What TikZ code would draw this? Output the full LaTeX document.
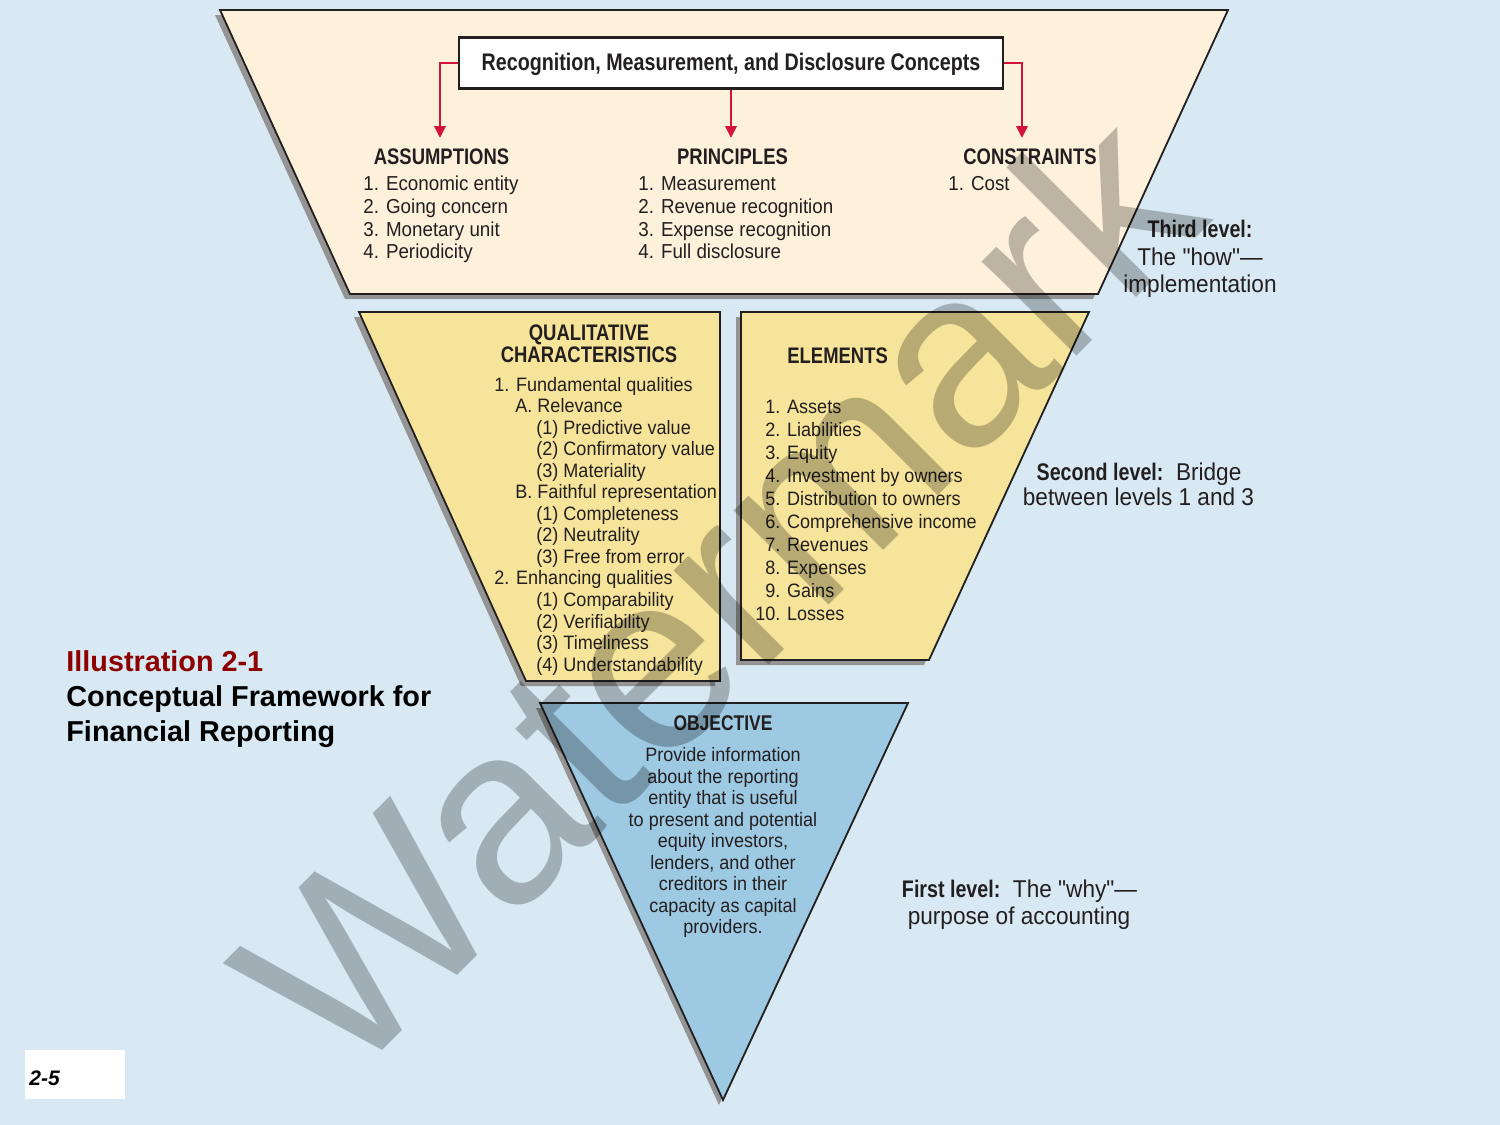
\documentclass[tikz,border=0pt]{standalone}
\usepackage{fontspec}
\setmainfont{Liberation Sans}
\newfontfamily\bodyf[FakeStretch=0.93]{Liberation Sans}
\newfontfamily\headf[FakeStretch=0.82]{Liberation Sans}
\usetikzlibrary{arrows.meta}
\definecolor{bgblue}{RGB}{216,233,243}
\definecolor{cream}{RGB}{253,241,219}
\definecolor{yel}{RGB}{246,228,154}
\definecolor{tri}{RGB}{157,201,226}
\definecolor{ink}{RGB}{35,31,32}
\definecolor{arrowred}{RGB}{210,20,58}
\definecolor{capred}{RGB}{140,0,0}
\begin{document}
\begin{tikzpicture}[x=0.5pt,y=-0.5pt,
  txt/.style={inner sep=0pt,text=ink,font=\bodyf\fontsize{9.7}{11}\selectfont},
  toptxt/.style={inner sep=0pt,text=ink,font=\bodyf\fontsize{10.1}{12}\selectfont},
  headtxt/.style={inner sep=0pt,text=ink,font=\headf\bfseries\fontsize{11.25}{13}\selectfont},
  lvl/.style={inner sep=0pt,text=ink,font=\bodyf\fontsize{12.15}{14}\selectfont},
  captxt/.style={inner sep=0pt,font=\bfseries\fontsize{14.4}{17}\selectfont},
  shade/.style={fill=black!42,draw=none},
  panel/.style={draw=ink,line width=0.9pt,line join=miter},
  redarr/.style={draw=arrowred,line width=1.45pt,-{Triangle[length=6pt,width=5.6pt]}}
]
% background
\fill[bgblue] (0,0) rectangle (1500,1125);
\path[use as bounding box] (0,0) rectangle (1500,1125);

% ---------- shapes ----------
\fill[shade,shift={(-5,5)}] (220,10) -- (1228,10) -- (1098,294) -- (350,294) -- cycle;
\filldraw[panel,fill=cream] (220,10) -- (1228,10) -- (1098,294) -- (350,294) -- cycle;

\fill[shade,shift={(-5,5)}] (359,312) -- (720,312) -- (720,681) -- (526,681) -- cycle;
\filldraw[panel,fill=yel] (359,312) -- (720,312) -- (720,681) -- (526,681) -- cycle;

\fill[shade,shift={(-5,5)}] (741,312) -- (1089,312) -- (929,660) -- (741,660) -- cycle;
\filldraw[panel,fill=yel] (741,312) -- (1089,312) -- (929,660) -- (741,660) -- cycle;

\fill[shade,shift={(-4,5)}] (540,703) -- (908,703) -- (723,1100) -- cycle;
\filldraw[panel,fill=tri] (540,703) -- (908,703) -- (723,1100) -- cycle;

% ---------- top level ----------
\node[draw=ink,line width=1.2pt,fill=white,minimum width=272pt,minimum height=25.5pt,
      inner sep=0pt,text=ink,font=\headf\bfseries\fontsize{12}{14}\selectfont,
      text height=0.716em,text depth=0pt] (hdr) at (731,63)
      {Recognition, Measurement, and Disclosure Concepts};

\node[headtxt,anchor=base] (hA) at (441.5,164) {ASSUMPTIONS};
\node[headtxt,anchor=base] (hP) at (732.5,164) {PRINCIPLES};
\node[headtxt,anchor=base] (hC) at (1030,164) {CONSTRAINTS};

\coordinate (aA) at (440,138);
\coordinate (aP) at (731,138);
\coordinate (aC) at (1022,138);
\draw[redarr] (hdr.west) -| (aA);
\draw[redarr] (hdr.south) -- (aP);
\draw[redarr] (hdr.east) -| (aC);

\node[toptxt,anchor=base west] (a1) at (363,190.5) {1. Economic entity};
\node[toptxt,anchor=base west] (a2) at (363,213.3) {2. Going concern};
\node[toptxt,anchor=base west] (a3) at (363,236.1) {3. Monetary unit};
\node[toptxt,anchor=base west] (a4) at (363,258.9) {4. Periodicity};

\node[toptxt,anchor=base west] (p1) at (638,190.5) {1. Measurement};
\node[toptxt,anchor=base west] (p2) at (638,213.3) {2. Revenue recognition};
\node[toptxt,anchor=base west] (p3) at (638,236.1) {3. Expense recognition};
\node[toptxt,anchor=base west] (p4) at (638,258.9) {4. Full disclosure};

\node[toptxt,anchor=base west] (c1) at (948,190.5) {1. Cost};

\node[lvl,anchor=base,font=\headf\bfseries\fontsize{12}{14}\selectfont] (t1) at (1200,237) {Third level:};
\node[lvl,anchor=base] (t2) at (1200,265) {The "how"—};
\node[lvl,anchor=base] (t3) at (1200,292) {implementation};

% ---------- second level ----------
\node[headtxt,anchor=base] (qh1) at (589,340) {QUALITATIVE};
\node[headtxt,anchor=base] (qh2) at (589,362.7) {CHARACTERISTICS};

\node[txt,anchor=base west] (q1)  at (494,391.0) {1. Fundamental qualities};
\node[txt,anchor=base west] (q2)  at (515,412.5) {A. Relevance};
\node[txt,anchor=base west] (q3)  at (536,434.1) {(1) Predictive value};
\node[txt,anchor=base west] (q4)  at (536,455.6) {(2) Confirmatory value};
\node[txt,anchor=base west] (q5)  at (536,477.2) {(3) Materiality};
\node[txt,anchor=base west] (q6)  at (515,498.7) {B. Faithful representation};
\node[txt,anchor=base west] (q7)  at (536,520.2) {(1) Completeness};
\node[txt,anchor=base west] (q8)  at (536,541.8) {(2) Neutrality};
\node[txt,anchor=base west] (q9)  at (536,563.3) {(3) Free from error};
\node[txt,anchor=base west] (q10) at (494,584.9) {2. Enhancing qualities};
\node[txt,anchor=base west] (q11) at (536,606.4) {(1) Comparability};
\node[txt,anchor=base west] (q12) at (536,628.0) {(2) Verifiability};
\node[txt,anchor=base west] (q13) at (536,649.5) {(3) Timeliness};
\node[txt,anchor=base west] (q14) at (536,671.0) {(4) Understandability};

\node[headtxt,anchor=base west] (eh) at (787,363) {ELEMENTS};
\node[txt,anchor=base west] (e1)  at (755,413) {\phantom{1}1. Assets};
\node[txt,anchor=base west] (e2)  at (755,436) {\phantom{1}2. Liabilities};
\node[txt,anchor=base west] (e3)  at (755,459) {\phantom{1}3. Equity};
\node[txt,anchor=base west] (e4)  at (755,482) {\phantom{1}4. Investment by owners};
\node[txt,anchor=base west] (e5)  at (755,505) {\phantom{1}5. Distribution to owners};
\node[txt,anchor=base west] (e6)  at (755,528) {\phantom{1}6. Comprehensive income};
\node[txt,anchor=base west] (e7)  at (755,551) {\phantom{1}7. Revenues};
\node[txt,anchor=base west] (e8)  at (755,574) {\phantom{1}8. Expenses};
\node[txt,anchor=base west] (e9)  at (755,597) {\phantom{1}9. Gains};
\node[txt,anchor=base west] (e10) at (755,620) {10. Losses};

\node[lvl,anchor=base] (s1) at (1139,480) {{\headf\bfseries\fontsize{12}{14}\selectfont Second level:}\ \ Bridge};
\node[lvl,anchor=base] (s2) at (1138.5,505) {between levels 1 and 3};

% ---------- first level ----------
\node[headtxt,anchor=base,font=\headf\bfseries\fontsize{10.65}{13}\selectfont] (oh) at (723,730) {OBJECTIVE};
\node[txt,anchor=base] (o1) at (723,761.7) {Provide information};
\node[txt,anchor=base] (o2) at (723,783.2) {about the reporting};
\node[txt,anchor=base] (o3) at (723,804.7) {entity that is useful};
\node[txt,anchor=base] (o4) at (723,826.2) {to present and potential};
\node[txt,anchor=base] (o5) at (723,847.7) {equity investors,};
\node[txt,anchor=base] (o6) at (723,869.2) {lenders, and other};
\node[txt,anchor=base] (o7) at (723,890.7) {creditors in their};
\node[txt,anchor=base] (o8) at (723,912.2) {capacity as capital};
\node[txt,anchor=base] (o9) at (723,933.7) {providers.};

\node[lvl,anchor=base] (f1) at (1019.5,897) {{\headf\bfseries\fontsize{12}{14}\selectfont First level:}\ \ The "why"—};
\node[lvl,anchor=base] (f2) at (1019,924) {purpose of accounting};

% ---------- caption ----------
\node[captxt,anchor=base west,text=capred] (cap1) at (66,671) {Illustration 2-1};
\node[captxt,anchor=base west,text=black] (cap2) at (66,706) {Conceptual Framework for};
\node[captxt,anchor=base west,text=black] (cap3) at (66,741) {Financial Reporting};

\fill[white] (25,1050) rectangle (125,1099);
\node[inner sep=0pt,anchor=base west,font=\bfseries\itshape\fontsize{10.5}{12}\selectfont] (pg) at (29,1085) {2-5};

% ---------- watermark ----------
\node[inner sep=0pt,rotate=45,text=black,text opacity=0.25,
      font=\fontsize{126.5}{130}\selectfont] (wm) at (716,590) {Watermark};
\end{tikzpicture}
\end{document}
